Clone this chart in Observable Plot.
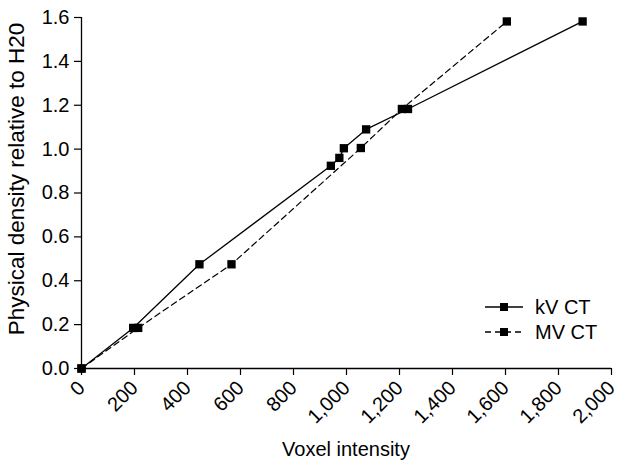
<!DOCTYPE html>
<html>
<head>
<meta charset="utf-8">
<script src="https://cdn.jsdelivr.net/npm/d3@7"></script>
<script src="https://cdn.jsdelivr.net/npm/@observablehq/plot@0.6"></script>
<style>
  html, body { margin: 0; padding: 0; background: #fff; }
</style>
</head>
<body>
<div id="chart"></div>
<script>
// Data
const kvIntensity = [0, 195, 445, 941, 973, 990, 1074, 1232, 1891];
const kvDensity   = [0, 0.185, 0.475, 0.924, 0.96, 1.004, 1.09, 1.183, 1.582];
const mvIntensity = [0, 214, 566, 1054, 1209, 1605];
const mvDensity   = [0, 0.185, 0.475, 1.005, 1.183, 1.582];
const xTicks = [0, 200, 400, 600, 800, 1000, 1200, 1400, 1600, 1800, 2000];
const yTicks = [0, 0.2, 0.4, 0.6, 0.8, 1.0, 1.2, 1.4, 1.6];
const seriesNames = ["kV CT", "MV CT"];
const xLabel = "Voxel intensity";
const yLabel = "Physical density relative to H20";

const kv = kvIntensity.map((x, i) => ({x, y: kvDensity[i]}));
const mv = mvIntensity.map((x, i) => ({x, y: mvDensity[i]}));

const W = 620, H = 463;
const mL = 81, mR = 9, mT = 17, mB = 95;
const FONT = "'Liberation Sans', Arial, Helvetica, sans-serif";
const FS = 20;

const chart = Plot.plot({
  width: W, height: H,
  marginLeft: mL, marginRight: mR, marginTop: mT, marginBottom: mB,
  style: {fontFamily: FONT, fontSize: FS + "px", color: "black", background: "white", overflow: "visible"},
  x: {domain: [0, 2000]},
  y: {domain: [0, 1.6]},
  marks: [
    Plot.axisX({ticks: xTicks, tickFormat: d3.format(","), tickRotate: -45, tickSize: 7, tickPadding: 9, label: null, stroke: "black", strokeWidth: 1.2}),
    Plot.axisY({ticks: yTicks, tickFormat: d3.format(".1f"), tickSize: 7, tickPadding: 5, label: null, stroke: "black", strokeWidth: 1.2}),
    Plot.ruleX([0], {stroke: "black", strokeWidth: 1.3}),
    Plot.ruleY([0], {stroke: "black", strokeWidth: 1.3}),
    Plot.line(mv, {x: "x", y: "y", stroke: "black", strokeWidth: 1.2, strokeDasharray: "6,4"}),
    Plot.line(kv, {x: "x", y: "y", stroke: "black", strokeWidth: 1.3}),
    Plot.dot(kv, {x: "x", y: "y", symbol: "square", r: 4.7, fill: "black", stroke: "none"}),
    Plot.dot(mv, {x: "x", y: "y", symbol: "square", r: 4.7, fill: "black", stroke: "none"})
  ]
});

document.getElementById("chart").appendChild(chart);

const svg = d3.select(chart);
// Axis titles
svg.append("text")
  .attr("x", (mL + W - mR) / 2).attr("y", 456)
  .attr("text-anchor", "middle")
  .attr("font-family", FONT).attr("font-size", FS).attr("fill", "black")
  .text(xLabel);
svg.append("text")
  .attr("transform", `translate(24, 179) rotate(-90)`)
  .attr("text-anchor", "middle")
  .attr("font-family", FONT).attr("font-size", 22.5).attr("fill", "black")
  .text(yLabel);

// Legend
const leg = svg.append("g");
seriesNames.forEach((name, i) => {
  const cy = 307 + i * 25;
  leg.append("line").attr("x1", 485).attr("x2", 523).attr("y1", cy).attr("y2", cy)
    .attr("stroke", "black").attr("stroke-width", 1.3)
    .attr("stroke-dasharray", i === 1 ? "6,4" : null);
  leg.append("rect").attr("x", 500).attr("y", cy - 4).attr("width", 8).attr("height", 8).attr("fill", "black");
  leg.append("text").attr("x", 535).attr("y", cy).attr("dy", "0.36em")
    .attr("text-anchor", "start")
    .attr("font-family", FONT).attr("font-size", FS).attr("fill", "black")
    .text(name);
});
</script>
</body>
</html>
